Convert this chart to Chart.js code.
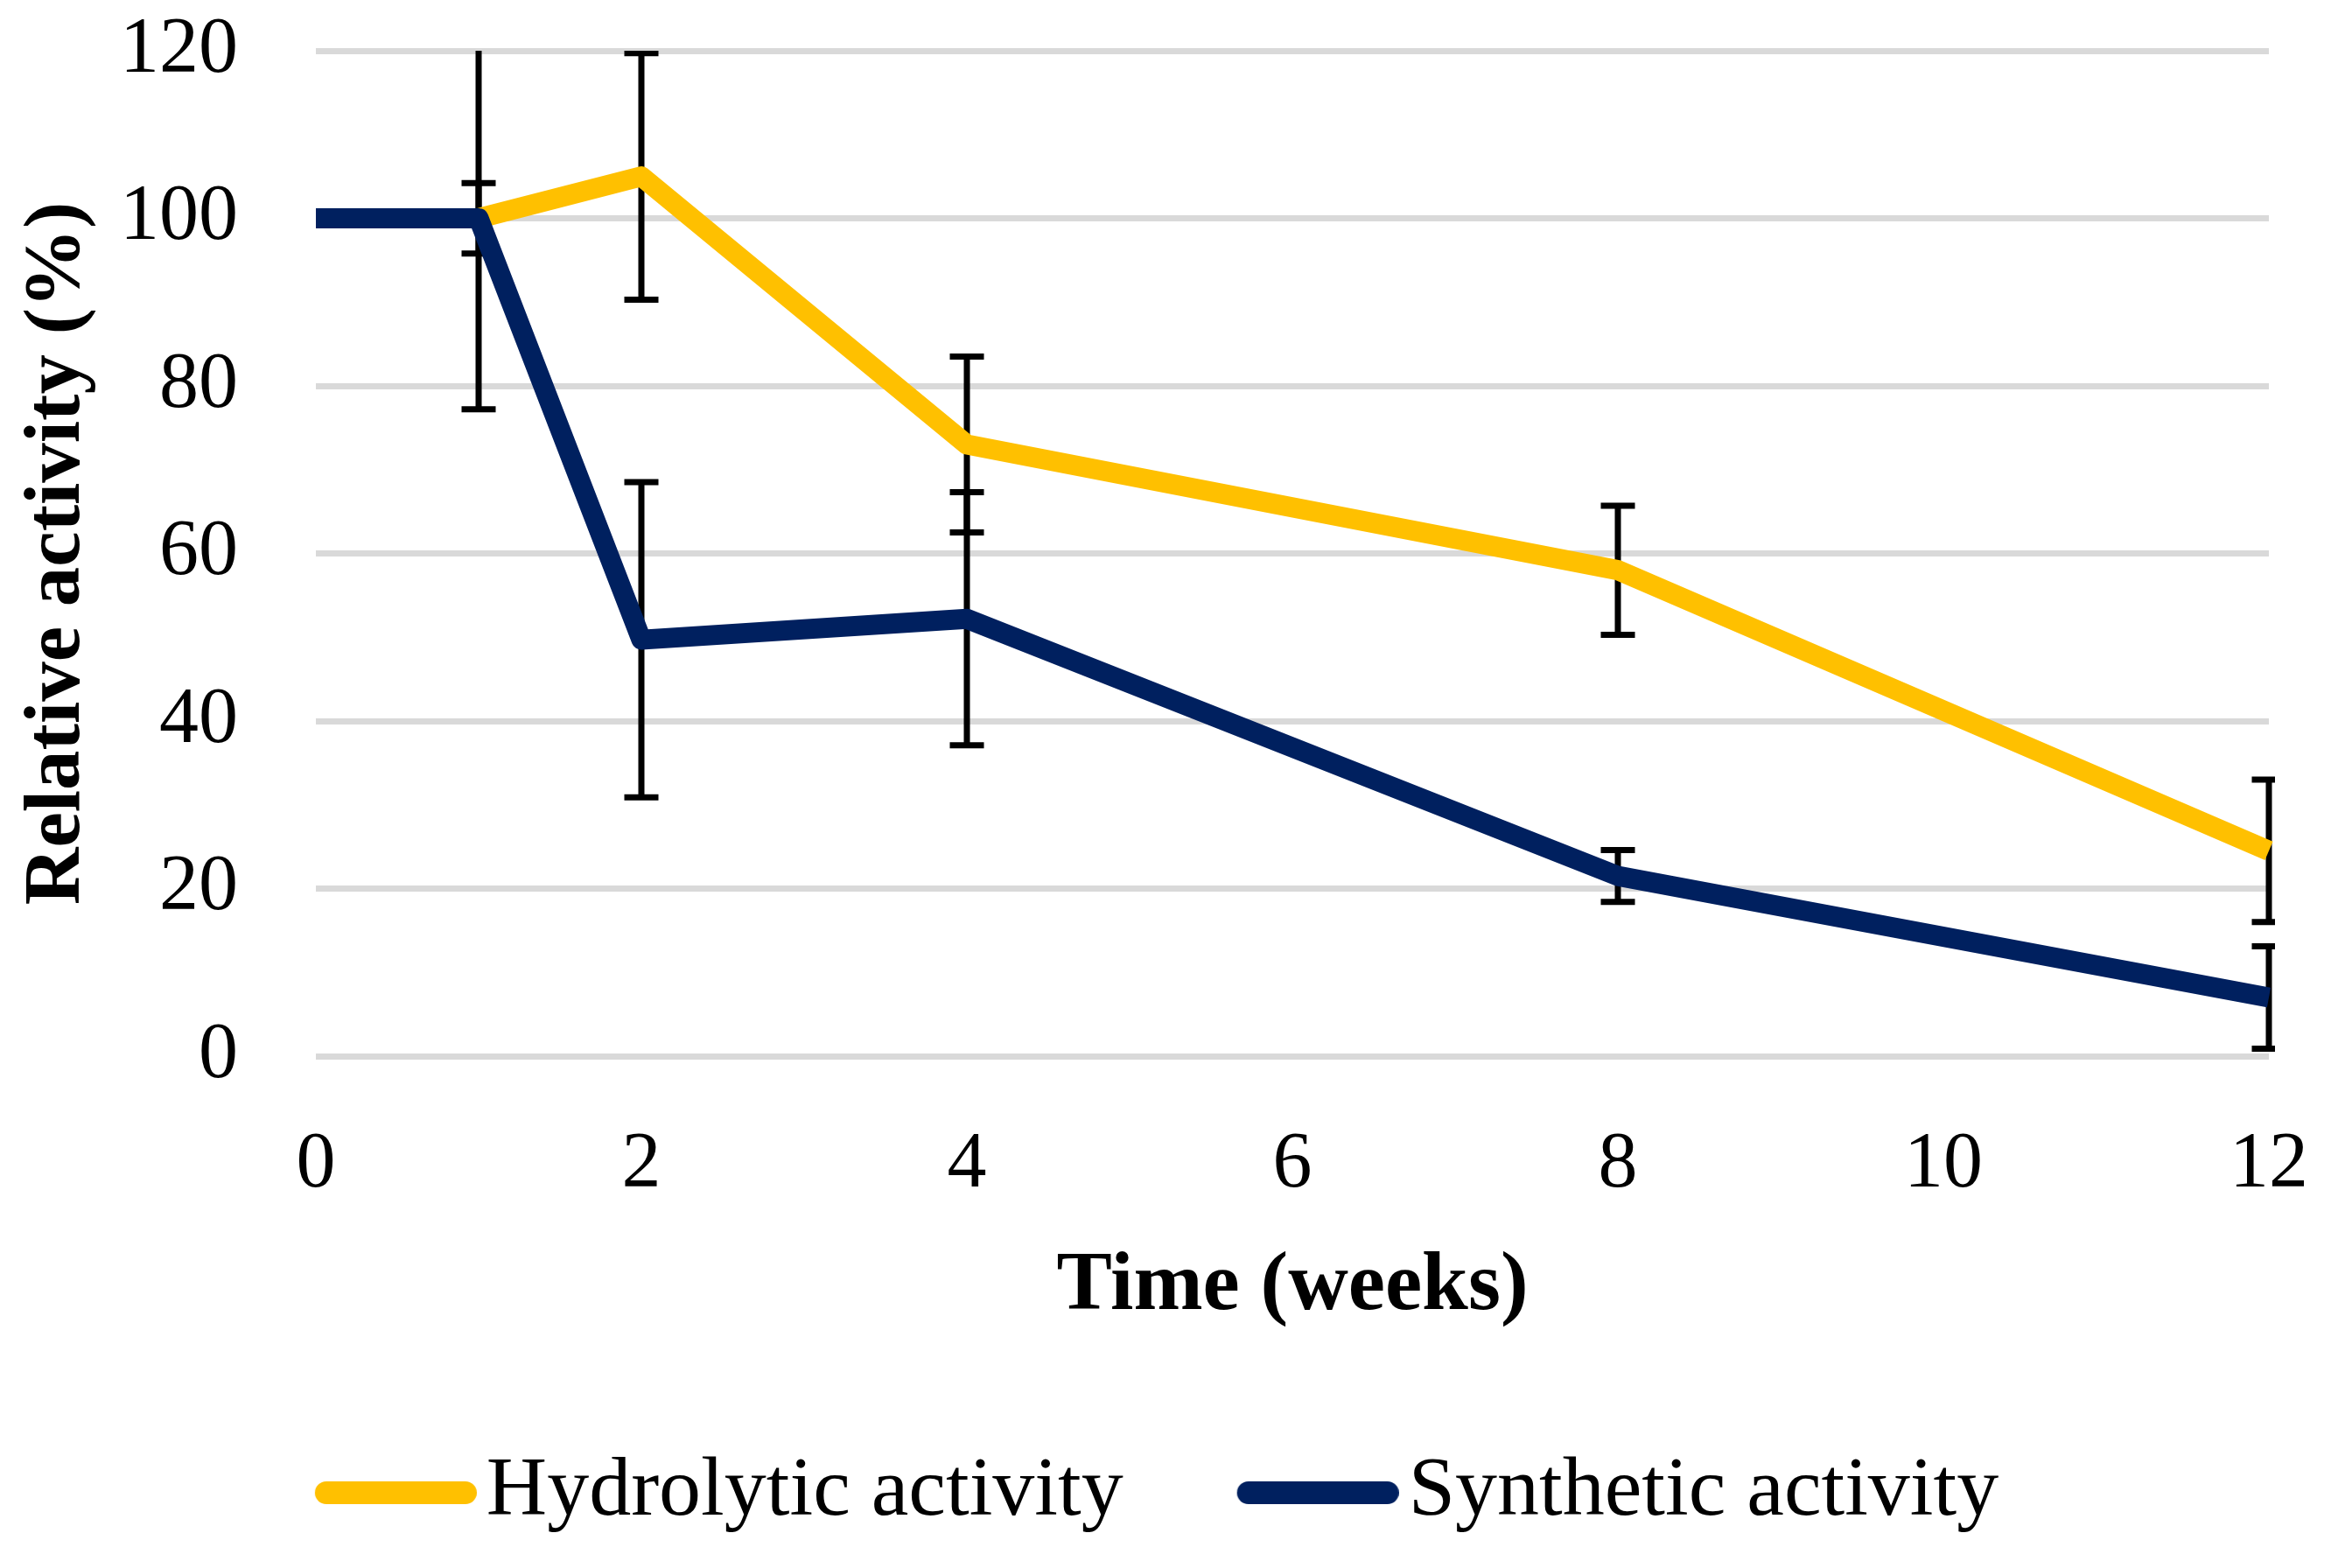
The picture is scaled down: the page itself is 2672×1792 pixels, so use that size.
<!DOCTYPE html>
<html>
<head>
<meta charset="utf-8">
<script src="https://cdn.jsdelivr.net/npm/chart.js@4.4.1/dist/chart.umd.min.js"></script>
<style>
html, body { margin: 0; padding: 0; background: #fff; }
#wrap { width: 2672px; height: 1792px; }
</style>
</head>
<body>
<div id="wrap"><canvas id="chart"></canvas></div>
<script>
const weeks = [0, 1, 2, 4, 8, 12];
const hydrolytic = [100, 100, 105, 73, 58, 24.5];
const hydrolyticErr = [0, 4.2, 14.7, 10.5, 7.7, 8.5];
const synthetic = [100, 100, 49.7, 52.2, 21.5, 7];
const syntheticErr = [0, 22.8, 18.8, 15.1, 3.1, 6.1];
const seriesNames = ["Hydrolytic activity", "Synthetic activity"];
const xTicks = [0, 2, 4, 6, 8, 10, 12];
const yTicks = [0, 20, 40, 60, 80, 100, 120];

const FONT = "'Liberation Serif', 'Times New Roman', serif";

// legend sample: long bar, offset so the text sits close to it
function swatch(color) {
    const c = document.createElement("canvas");
    c.width = 222;
    c.height = 26;
    const g = c.getContext("2d");
    g.fillStyle = color;
    g.beginPath();
    g.roundRect(37, 0, 185, 26, 13);
    g.fill();
    return c;
}

// error bars, drawn under the lines
const errorBars = {
    id: "errorBars",
    beforeDatasetsDraw(chart) {
        const ctx = chart.ctx;
        const area = chart.chartArea;
        const xs = chart.scales.x;
        const ys = chart.scales.y;
        ctx.save();
        ctx.beginPath();
        ctx.rect(area.left - 7, area.top, area.right - area.left + 14, area.bottom - area.top);
        ctx.clip();
        ctx.strokeStyle = "#000";
        ctx.lineWidth = 7;
        chart.data.datasets.forEach((ds) => {
            ds.data.forEach((p, i) => {
                const e = ds.errors[i];
                if (!e) return;
                const x = xs.getPixelForValue(p.x);
                const yTop = ys.getPixelForValue(p.y + e);
                const yBot = ys.getPixelForValue(p.y - e);
                ctx.beginPath();
                ctx.moveTo(x, yTop);
                ctx.lineTo(x, yBot);
                ctx.moveTo(x - 19.5, yTop);
                ctx.lineTo(x + 19.5, yTop);
                ctx.moveTo(x - 19.5, yBot);
                ctx.lineTo(x + 19.5, yBot);
                ctx.stroke();
            });
        });
        ctx.restore();
    },
};

const ctx = document.getElementById("chart").getContext("2d");

new Chart(ctx, {
    type: "line",
    data: {
        datasets: [
            {
                label: seriesNames[0],
                data: weeks.map((w, i) => ({ x: w, y: hydrolytic[i] })),
                errors: hydrolyticErr,
                borderColor: "#FFC000",
                backgroundColor: "#FFC000",
                borderWidth: 23,
                borderJoinStyle: "round",
                pointRadius: 0,
                pointHoverRadius: 0,
                clip: { left: 0, top: false, right: 7, bottom: false },
                order: 2,
            },
            {
                label: seriesNames[1],
                data: weeks.map((w, i) => ({ x: w, y: synthetic[i] })),
                errors: syntheticErr,
                borderColor: "#00205F",
                backgroundColor: "#00205F",
                borderWidth: 23,
                borderJoinStyle: "round",
                pointRadius: 0,
                pointHoverRadius: 0,
                clip: { left: 0, top: false, right: 7, bottom: false },
                order: 1,
            },
        ],
    },
    options: {
        responsive: true,
        maintainAspectRatio: false,
        animation: false,
        events: [],
        layout: {
            padding: { top: 58, right: 40, bottom: 28, left: 12 },
        },
        plugins: {
            tooltip: { enabled: false },
            legend: {
                position: "bottom",
                labels: {
                    usePointStyle: true,
                    pointStyleWidth: 148,
                    boxHeight: 26,
                    padding: 130,
                    color: "#000",
                    font: { family: FONT, size: 96 },
                    generateLabels(chart) {
                        const items = Chart.defaults.plugins.legend.labels.generateLabels(chart);
                        items.forEach((it) => {
                            it.pointStyle = swatch(it.strokeStyle);
                        });
                        return items.sort((a, b) => a.datasetIndex - b.datasetIndex);
                    },
                },
            },
        },
        scales: {
            x: {
                type: "linear",
                min: 0,
                max: 12,
                afterBuildTicks: (s) => {
                    s.ticks = xTicks.map((v) => ({ value: v }));
                },
                afterFit: (s) => {
                    s.paddingLeft = 0;
                    s.paddingRight = 79;
                    s.height -= 74;
                },
                grid: { display: false, drawTicks: false },
                border: { display: false },
                ticks: {
                    padding: 71,
                    color: "#000",
                    maxRotation: 0,
                    font: { family: FONT, size: 90 },
                },
                title: {
                    display: true,
                    text: "Time (weeks)",
                    color: "#000",
                    font: { family: FONT, size: 95, weight: "bold" },
                    padding: { top: 31, bottom: 0 },
                },
            },
            y: {
                min: 0,
                max: 120,
                afterBuildTicks: (s) => {
                    s.ticks = yTicks.map((v) => ({ value: v }));
                },
                afterFit: (s) => {
                    s.width = 349;
                    s.paddingTop = 0;
                    s.paddingBottom = 0;
                },
                grid: { color: "#D9D9D9", lineWidth: 7, drawTicks: false },
                border: { display: false },
                ticks: {
                    padding: 89,
                    color: "#000",
                    font: { family: FONT, size: 90 },
                },
                title: {
                    display: true,
                    text: "Relative activity (%)",
                    color: "#000",
                    font: { family: FONT, size: 91, weight: "bold" },
                    padding: { top: 0, bottom: 4 },
                },
            },
        },
    },
    plugins: [errorBars],
});
</script>
</body>
</html>
